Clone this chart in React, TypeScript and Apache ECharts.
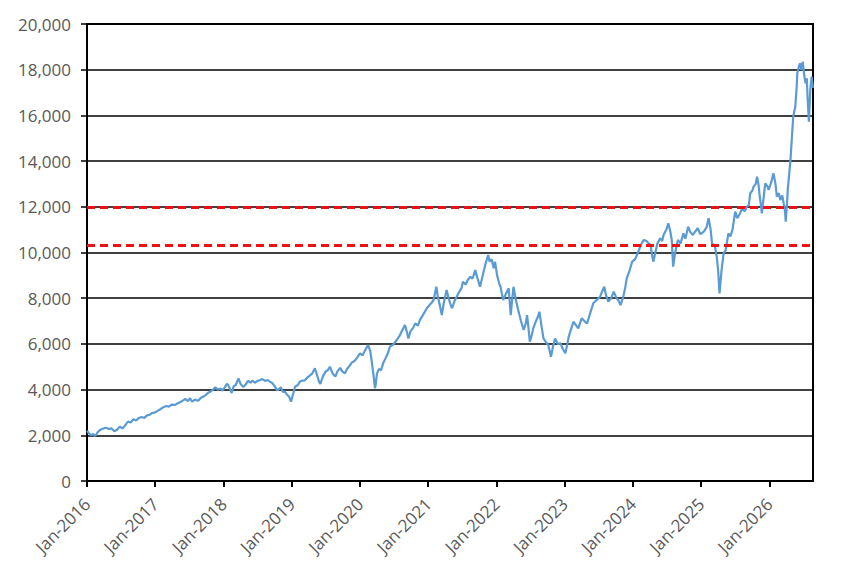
import React, { useEffect, useRef } from "react";
import * as echarts from "echarts";

const YEAR_TICKS = [2016, 2017, 2018, 2019, 2020, 2021, 2022, 2023, 2024, 2025, 2026];
const REF_LINES = [12000, 10300];

const DATES = [
  2016.00, 2016.03, 2016.06, 2016.09, 2016.12, 2016.16, 2016.20, 2016.24, 2016.28, 2016.32,
  2016.36, 2016.40, 2016.44, 2016.48, 2016.52, 2016.55, 2016.60, 2016.64, 2016.68, 2016.72,
  2016.76, 2016.80, 2016.84, 2016.88, 2016.92, 2016.95, 2017.00, 2017.04, 2017.08, 2017.12,
  2017.16, 2017.20, 2017.24, 2017.29, 2017.33, 2017.37, 2017.41, 2017.44, 2017.48, 2017.51,
  2017.54, 2017.58, 2017.63, 2017.67, 2017.71, 2017.74, 2017.77, 2017.81, 2017.85, 2017.88,
  2017.92, 2017.96, 2017.98, 2018.02, 2018.05, 2018.07, 2018.10, 2018.12, 2018.15, 2018.18,
  2018.22, 2018.25, 2018.29, 2018.32, 2018.36, 2018.40, 2018.42, 2018.46, 2018.50, 2018.54,
  2018.57, 2018.61, 2018.65, 2018.68, 2018.71, 2018.75, 2018.78, 2018.80, 2018.84, 2018.87,
  2018.90, 2018.93, 2018.96, 2018.99, 2019.02, 2019.05, 2019.09, 2019.12, 2019.15, 2019.19,
  2019.22, 2019.26, 2019.30, 2019.34, 2019.37, 2019.40, 2019.42, 2019.46, 2019.50, 2019.53,
  2019.56, 2019.60, 2019.64, 2019.67, 2019.71, 2019.74, 2019.78, 2019.81, 2019.85, 2019.88,
  2019.92, 2019.96, 2020.00, 2020.04, 2020.08, 2020.12, 2020.15, 2020.17, 2020.20, 2020.22,
  2020.23, 2020.25, 2020.28, 2020.31, 2020.34, 2020.38, 2020.41, 2020.44, 2020.48, 2020.51,
  2020.54, 2020.58, 2020.62, 2020.66, 2020.69, 2020.71, 2020.74, 2020.78, 2020.81, 2020.85,
  2020.88, 2020.92, 2020.95, 2020.98, 2021.02, 2021.05, 2021.08, 2021.12, 2021.14, 2021.17,
  2021.20, 2021.23, 2021.27, 2021.30, 2021.33, 2021.35, 2021.39, 2021.42, 2021.46, 2021.49,
  2021.51, 2021.55, 2021.58, 2021.62, 2021.65, 2021.69, 2021.72, 2021.74, 2021.76, 2021.80,
  2021.84, 2021.88, 2021.90, 2021.93, 2021.96, 2021.98, 2022.01, 2022.04, 2022.06, 2022.08,
  2022.10, 2022.14, 2022.18, 2022.21, 2022.23, 2022.25, 2022.28, 2022.32, 2022.36, 2022.40,
  2022.43, 2022.45, 2022.47, 2022.49, 2022.52, 2022.54, 2022.58, 2022.61, 2022.63, 2022.66,
  2022.69, 2022.72, 2022.76, 2022.78, 2022.80, 2022.83, 2022.86, 2022.90, 2022.94, 2022.97,
  2023.01, 2023.04, 2023.06, 2023.10, 2023.13, 2023.17, 2023.20, 2023.25, 2023.29, 2023.33,
  2023.37, 2023.42, 2023.46, 2023.50, 2023.52, 2023.55, 2023.58, 2023.61, 2023.64, 2023.68,
  2023.72, 2023.76, 2023.79, 2023.82, 2023.86, 2023.89, 2023.91, 2023.95, 2023.99, 2024.03,
  2024.06, 2024.10, 2024.13, 2024.16, 2024.20, 2024.23, 2024.26, 2024.28, 2024.30, 2024.33,
  2024.36, 2024.40, 2024.43, 2024.45, 2024.49, 2024.52, 2024.55, 2024.57, 2024.59, 2024.62,
  2024.66, 2024.70, 2024.74, 2024.77, 2024.81, 2024.84, 2024.88, 2024.91, 2024.95, 2024.99,
  2025.04, 2025.08, 2025.11, 2025.14, 2025.16, 2025.20, 2025.23, 2025.25, 2025.27, 2025.30,
  2025.33, 2025.36, 2025.40, 2025.43, 2025.46, 2025.50, 2025.53, 2025.57, 2025.60, 2025.64,
  2025.67, 2025.70, 2025.72, 2025.75, 2025.77, 2025.80, 2025.82, 2025.84, 2025.86, 2025.88,
  2025.89, 2025.92, 2025.94, 2025.97, 2025.99, 2026.03, 2026.06, 2026.09, 2026.11, 2026.14,
  2026.16, 2026.19, 2026.21, 2026.23, 2026.24, 2026.26, 2026.27, 2026.29, 2026.31, 2026.33,
  2026.35, 2026.38, 2026.40, 2026.41, 2026.43, 2026.45, 2026.47, 2026.49, 2026.51, 2026.53,
  2026.55, 2026.56, 2026.58, 2026.60, 2026.62, 2026.64,
];

const VALUES = [
  2200, 2080, 2000, 2060, 1970, 2150, 2250, 2300, 2330, 2280,
  2300, 2180, 2240, 2380, 2300, 2400, 2600, 2560, 2700, 2650,
  2760, 2800, 2760, 2870, 2900, 2970, 3000, 3080, 3150, 3230,
  3280, 3250, 3340, 3330, 3400, 3460, 3530, 3590, 3500, 3620,
  3470, 3560, 3510, 3640, 3700, 3760, 3850, 3920, 4000, 4100,
  4000, 4050, 3950, 4100, 4250, 4200, 4000, 3850, 4150, 4200,
  4490, 4250, 4110, 4200, 4380, 4300, 4390, 4300, 4380, 4420,
  4460, 4380, 4420, 4350, 4300, 4150, 4000, 3980, 4100, 3900,
  3910, 3780, 3700, 3470, 3800, 4130, 4200, 4350, 4390, 4400,
  4500, 4600, 4700, 4930, 4650, 4350, 4250, 4600, 4800, 4850,
  5000, 4700, 4570, 4800, 4950, 4800, 4710, 4900, 5050, 5180,
  5250, 5400, 5590, 5500, 5750, 5950, 5700, 5300, 4600, 4060,
  4200, 4710, 4900, 4850, 5150, 5400, 5600, 5880, 5950, 6050,
  6170, 6350, 6600, 6830, 6500, 6240, 6550, 6700, 6900, 6800,
  7050, 7250, 7400, 7560, 7700, 7800, 7920, 8500, 8100, 7700,
  7260, 7800, 8360, 8000, 7700, 7560, 7900, 8070, 8300, 8450,
  8720, 8600, 8800, 8940, 8850, 9230, 8900, 8700, 8500, 9000,
  9500, 9890, 9600, 9700, 9310, 9600, 9000, 8650, 8500, 8200,
  7920, 8200, 8430, 7260, 7900, 8500, 8000, 7480, 7000, 6610,
  6900, 7260, 6700, 6100, 6400, 6680, 7000, 7200, 7410, 6800,
  6240, 6100, 5950, 5700, 5440, 5900, 6240, 6000, 6020, 5800,
  5590, 6000, 6320, 6700, 6970, 6800, 6680, 7120, 7000, 6900,
  7300, 7780, 7900, 8000, 8070, 8300, 8500, 8100, 7850, 8000,
  8290, 8000, 7900, 7700, 8070, 8500, 8870, 9200, 9600, 9700,
  9890, 10200, 10400, 10550, 10500, 10400, 10330, 9900, 9600, 10000,
  10400, 10620, 10500, 10770, 11000, 11280, 10900, 10550, 9380, 10000,
  10550, 10400, 10840, 10600, 11130, 10900, 10770, 10900, 11060, 10800,
  10910, 11100, 11500, 11000, 10400, 10300, 9820, 9200, 8210, 9230,
  9960, 10100, 10840, 10700, 11000, 11790, 11500, 11710, 11930, 11800,
  12000, 12080, 12590, 12700, 12880, 13000, 13320, 13000, 12440, 12000,
  11710, 12500, 13030, 12900, 12740, 13100, 13470, 13000, 12440, 12600,
  12300, 12500, 12150, 11800, 11350, 12200, 12740, 13400, 14050, 15000,
  15940, 16380, 17200, 17840, 18100, 18280, 18000, 18350, 17800, 17400,
  17620, 16800, 15720, 17110, 17700, 17200,
];

const TEXT_COLOR = "#595959";
const FONT = "'Open Sans', 'Noto Sans', sans-serif";

export default function App() {
  const ref = useRef<HTMLDivElement>(null);

  useEffect(() => {
    if (!ref.current) return;
    const chart = echarts.init(ref.current, undefined, { renderer: "svg" });
    const seriesData = DATES.map((d, i) => [d, VALUES[i]]);
    chart.setOption({
      animation: false,
      backgroundColor: "#ffffff",
      grid: {
        left: 87,
        right: 41,
        top: 24,
        bottom: 95,
        show: true,
        borderColor: "#000000",
        borderWidth: 2,
        backgroundColor: "transparent",
      },
      xAxis: {
        type: "value",
        min: 2016,
        max: DATES[DATES.length - 1],
        interval: 1,
        axisLine: { show: true, lineStyle: { color: "#000000", width: 2 } },
        axisTick: {
          show: true,
          length: 6,
          lineStyle: { color: "#000000", width: 2 },
          customValues: YEAR_TICKS,
        },
        splitLine: { show: false },
        axisLabel: {
          rotate: 45,
          margin: 20,
          color: TEXT_COLOR,
          fontSize: 17,
          fontFamily: FONT,
          customValues: YEAR_TICKS,
          formatter: (v: number) => "Jan-" + Math.round(v),
        },
      },
      yAxis: {
        type: "value",
        min: 0,
        max: 20000,
        interval: 2000,
        axisLine: { show: true, lineStyle: { color: "#000000", width: 2 } },
        axisTick: { show: true, length: 6, lineStyle: { color: "#000000", width: 1.5 } },
        splitLine: { show: true, lineStyle: { color: "#000000", width: 1.5 } },
        axisLabel: {
          margin: 16,
          color: TEXT_COLOR,
          fontSize: 17,
          fontFamily: FONT,
          formatter: (v: number) => v.toLocaleString("en-US"),
        },
      },
      series: [
        {
          type: "line",
          data: seriesData,
          showSymbol: false,
          symbol: "none",
          lineStyle: { color: "#5b9bd5", width: 2.2 },
          itemStyle: { color: "#5b9bd5" },
          markLine: {
            silent: true,
            symbol: ["none", "none"],
            label: { show: false },
            lineStyle: { color: "#ee1111", type: [8, 5], width: 3 },
            data: REF_LINES.map((y) => ({ yAxis: y })),
          },
        },
      ],
    });
    return () => chart.dispose();
  }, []);

  return (
    <div
      ref={ref}
      style={{ position: "fixed", left: 0, top: 0, width: 854, height: 576, background: "#fff" }}
    />
  );
}
